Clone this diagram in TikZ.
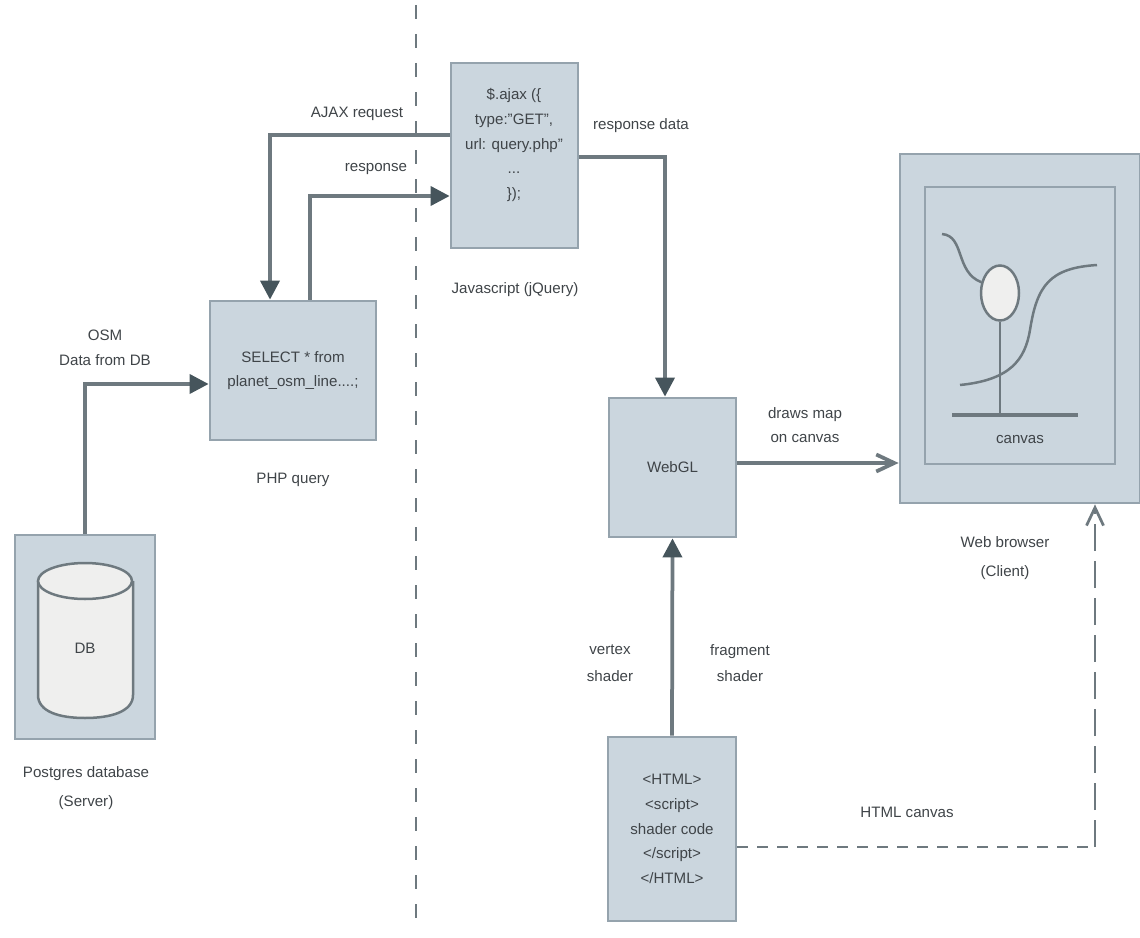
\documentclass[tikz,border=0pt]{standalone}
\usepackage{fontspec}
\setmainfont{Liberation Sans}
\usetikzlibrary{arrows.meta,shapes.geometric}
\definecolor{boxfill}{HTML}{CBD6DE}
\definecolor{boxline}{HTML}{95A3AD}
\definecolor{wireline}{HTML}{6E797F}
\definecolor{tipfill}{HTML}{46555C}
\definecolor{textgrey}{HTML}{3F4448}
\definecolor{paleface}{HTML}{EFEFEE}
\tikzset{
  lbl/.style={font=\fontsize{8.6}{14}\selectfont, text=textgrey, align=center, inner sep=0pt},
  box/.style={lbl, draw=boxline, fill=boxfill, line width=0.55mm},
  wire/.style={draw=wireline, line width=0.75mm},
  solidtip/.style={wire, -{Triangle[length=3.8mm,width=3.8mm,fill=tipfill,color=tipfill]}},
  opentip/.style={wire, -{Straight Barb[length=3.6mm,width=3.4mm,color=wireline]}},
  sketch/.style={draw=wireline, line width=0.5mm}
}
\begin{document}
\begin{tikzpicture}[x=0.2mm,y=-0.2mm]
\useasboundingbox (0,0) rectangle (1140,938);
% divider
\coordinate (divtop) at (416,5);
\coordinate (divbot) at (416,922);
\draw[wire, line width=0.5mm, dash pattern=on 2.8mm off 3mm] (divtop) -- (divbot);
% boxes
\node[box, minimum width=25.4mm, minimum height=37mm] (ajax) at (514.5,155.5) {};
\node[lbl] (ajaxcode) at (514,145) {\$.ajax (\{\\type:"GET",\\url: query.php"\\...\\\});};
\node[box, minimum width=33.2mm, minimum height=27.8mm] (php) at (293,370.5) {SELECT * from\\planet\_osm\_line....;};
\node[box, minimum width=28mm, minimum height=40.8mm] (dbbox) at (85,637) {};
\node[box, minimum width=25.4mm, minimum height=27.8mm] (webgl) at (672.5,467.5) {WebGL};
\node[box, minimum width=25.6mm, minimum height=36.8mm] (html) at (672,829) {<HTML>\\<script>\\shader code\\</script>\\</HTML>};
\node[box, minimum width=48mm, minimum height=69.8mm] (browser) at (1020,328.5) {};
\node[box, minimum width=38mm, minimum height=55.4mm] (canvas) at (1020,325.5) {};
% database
\draw[sketch, fill=paleface] (38,581) -- (38,695) .. controls (38,712) and (60,718) .. (85,718)
  .. controls (110,718) and (133,712) .. (133,695) -- (133,581);
\draw[sketch, fill=paleface] (85,581) ellipse [x radius=47, y radius=18];
\node[lbl] (dbname) at (85,648) {DB};
% map sketch
\node[draw=wireline, line width=0.5mm, fill=paleface, ellipse, minimum width=7.6mm, minimum height=11mm, inner sep=0pt] (pin) at (1000,293) {};
\coordinate (roadstart) at (942,234);
\coordinate (roadend) at (1097,265);
\coordinate (groundleft) at (952,415);
\coordinate (groundright) at (1078,415);
\draw[sketch] (roadstart) .. controls (965,236) and (955,272) .. (pin.150);
\draw[sketch] (960,385) .. controls (1010,380) and (1025,360) .. (1030,330)
  .. controls (1037,285) and (1050,268) .. (roadend);
\draw[sketch, line width=0.7mm] (groundleft) -- (groundright);
\draw[sketch] (pin.south) -- (pin.south |- groundleft);
\node[lbl] (canvasname) at (1020,440) {canvas};
% connectors
\coordinate (reqcorner) at (270,135);
\coordinate (respcorner) at (310,196);
\coordinate (datacorner) at (665,157);
\coordinate (dashcorner) at (1095,847);
\draw[solidtip] (ajax.west |- reqcorner) -- (reqcorner) -- (reqcorner |- php.north);
\draw[solidtip] (respcorner |- php.north) -- (respcorner) -- (ajax.west |- respcorner);
\draw[solidtip] (ajax.east |- datacorner) -- (datacorner) -- (datacorner |- webgl.north);
\draw[solidtip] (dbbox.north) -- (85,384) -- (php.west |- 85,384);
\draw[opentip] (webgl.east |- 0,463) -- (browser.west |- 0,463);
\draw[solidtip] (html.north) -- (webgl.south);
\draw[wire, line width=0.55mm, dash pattern=on 2.2mm off 1.8mm] (html.east |- dashcorner) -- (dashcorner);
\draw[opentip, line width=0.55mm, dash pattern=on 5.4mm off 2mm] (dashcorner) -- (dashcorner |- browser.south);
% labels
\node[lbl] (ajaxlabel) at (357,114) {AJAX request};
\node[lbl] (resplabel) at (376,169) {response};
\node[lbl] (datalabel) at (641,126) {response data};
\node[lbl] (jslabel) at (515,290) {Javascript (jQuery)};
\node[lbl] (osmlabel) at (105,348) {OSM\\Data from DB};
\node[lbl] (phplabel) at (293,480) {PHP query};
\node[lbl] (drawlabel) at (805,425) {draws map\\on canvas};
\node[lbl] (weblabel) at (1005,558) {Web browser\\[0.9mm](Client)};
\node[lbl] (pglabel) at (86,788) {Postgres database\\[0.9mm](Server)};
\node[lbl] (vertexlabel) at (610,663) {vertex\\[0.4mm]shader};
\node[lbl] (fraglabel) at (740,663) {fragment\\[0.4mm]shader};
\node[lbl] (canvaslabel) at (907,812) {HTML canvas};
\end{tikzpicture}
\end{document}
